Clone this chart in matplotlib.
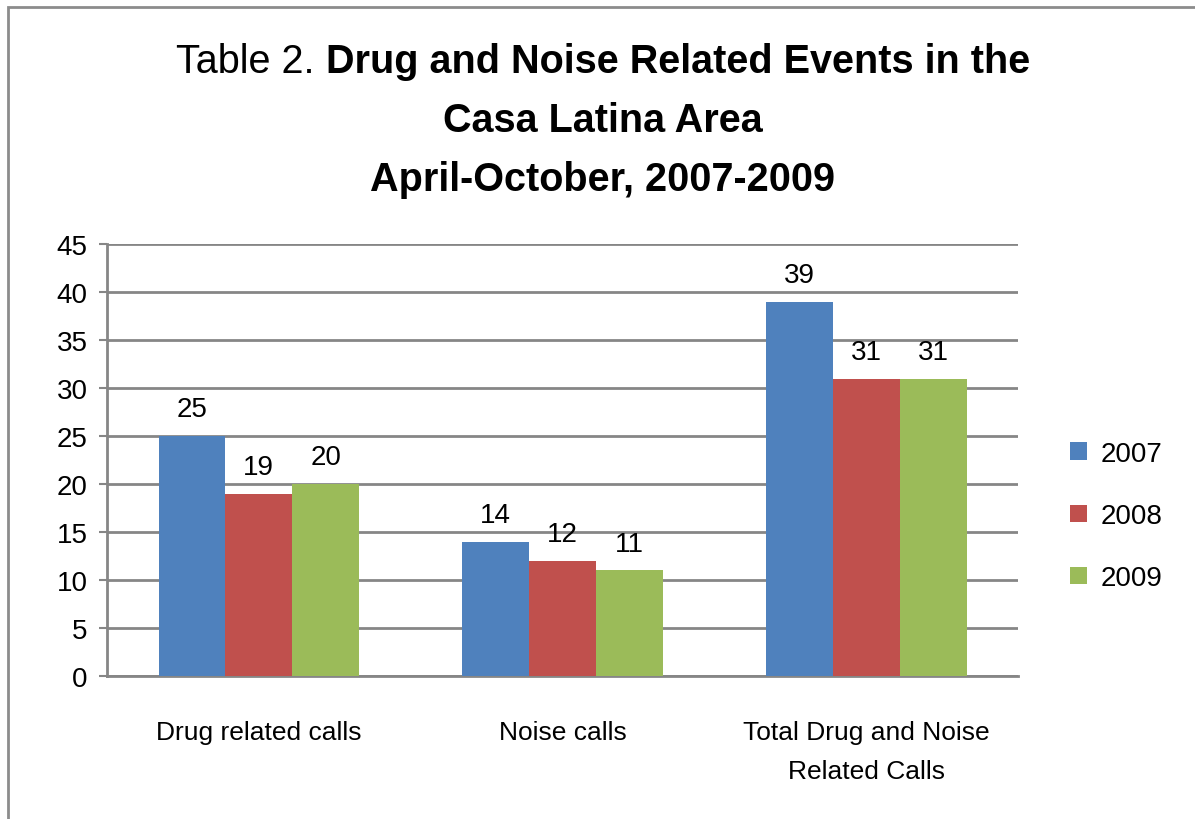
import numpy as np
import matplotlib.pyplot as plt
from matplotlib.patches import Rectangle

categories = ["Drug related calls", "Noise calls", "Total Drug and Noise\nRelated Calls"]
years = ["2007", "2008", "2009"]
values_2007 = [25, 14, 39]
values_2008 = [19, 12, 31]
values_2009 = [20, 11, 31]
colors = ["#4F81BD", "#C0504D", "#9BBB59"]

plt.rcParams["font.family"] = ["Liberation Sans", "DejaVu Sans"]

fig = plt.figure(figsize=(11.95, 8.2), dpi=100)
ax = fig.add_axes([0.0895, 0.1744, 0.7625, 0.5266])

# chart border
fig.patches.append(Rectangle((0.007, -0.01), 1.2, 1.0, transform=fig.transFigure,
                             fill=False, edgecolor="#8C8C8C", linewidth=2))

x = np.arange(len(categories))
width = 0.22
series = [values_2007, values_2008, values_2009]
for i, (vals, col, yr) in enumerate(zip(series, colors, years)):
    pos = x + (i - 1) * width
    bars = ax.bar(pos, vals, width, color=col, label=yr, zorder=3)
    for b, v in zip(bars, vals):
        ax.annotate(str(v), (b.get_x() + b.get_width() / 2, v),
                    xytext=(0, 10), textcoords="offset points",
                    ha="center", va="bottom", fontsize=20)

ax.set_xlim(-0.5, 2.5)
ax.set_ylim(0, 45)
ax.set_yticks(range(0, 46, 5))
ax.set_xticks(x)
ax.set_xticklabels(categories, fontsize=19, linespacing=1.75)
ax.tick_params(axis="x", length=0, pad=32)
ax.tick_params(axis="y", labelsize=20, length=6, width=1.5, color="#868686", pad=8)
ax.grid(axis="y", color="#868686", linewidth=2, zorder=0)
for s in ["top", "right"]:
    ax.spines[s].set_visible(False)
for s in ["left", "bottom"]:
    ax.spines[s].set_color("#868686")
    ax.spines[s].set_linewidth(2)

leg = ax.legend(loc="center left", bbox_to_anchor=(1.03, 0.37), frameon=False,
                fontsize=20, handlelength=0.6, handleheight=0.6,
                labelspacing=1.3, handletextpad=0.5)

# title: "Table 2." regular, rest bold
tsize = 28.5
fig.canvas.draw()
r = fig.canvas.get_renderer()
y1 = 1 - 62 / 820
t1 = fig.text(0, y1, "Table 2. ", fontsize=tsize, va="center", ha="left")
t2 = fig.text(0, y1, "Drug and Noise Related Events in the", fontsize=tsize,
              fontweight="bold", va="center", ha="left")
w1 = t1.get_window_extent(r).width / fig.bbox.width
w2 = t2.get_window_extent(r).width / fig.bbox.width
cx = 603 / 1195
start = cx - (w1 + w2) / 2
t1.set_x(start)
t2.set_x(start + w1)
fig.text(cx, 1 - 121 / 820, "Casa Latina Area", fontsize=tsize, fontweight="bold",
         ha="center", va="center")
fig.text(cx, 1 - 180 / 820, "April-October, 2007-2009", fontsize=tsize,
         fontweight="bold", ha="center", va="center")

fig.savefig("out.png", dpi=100)
